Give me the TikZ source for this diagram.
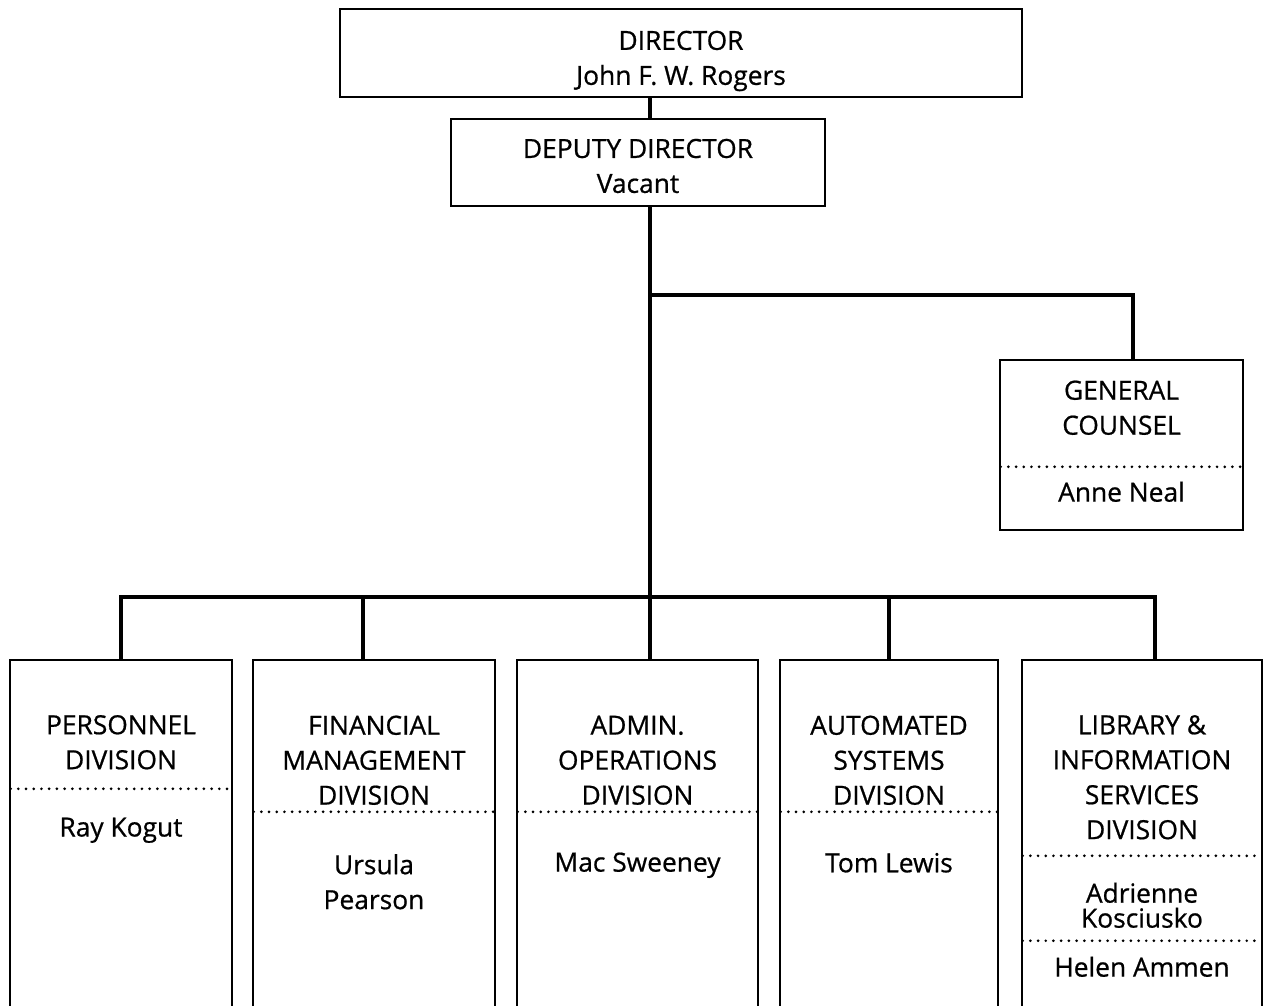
\documentclass[tikz,border=0pt]{standalone}
\usepackage{fontspec}
\setmainfont{Open Sans}[FakeBold=0.7]
\usetikzlibrary{positioning}

\begin{document}
\begin{tikzpicture}[
    x=0.02cm, y=-0.02cm,
    every node/.style={font=\fontsize{15}{19.9}\selectfont, align=center},
    box/.style={draw, line width=1.4pt, inner sep=0, minimum width=#1},
    box/.default=4.8cm,
    link/.style={line width=2.6pt},
    sep/.style={line width=1.7pt, dash pattern=on 0pt off 4.4pt, line cap=round, shorten <=1pt, shorten >=1pt}
]

\clip (0,0) rectangle (1265,1006);

% Director and deputy
\node[box=13.64cm, minimum height=1.76cm] (director) at (681,53) {};
\node (director-text) at ([yshift=-0.16cm]director.center) {DIRECTOR\\John F. W. Rogers};
\node[box=7.48cm, minimum height=1.74cm] (deputy) at (638,162.5) {};
\node (deputy-text) at ([yshift=-0.07cm]deputy.center) {DEPUTY DIRECTOR\\Vacant};

% Trunk points
\coordinate (branch) at (650,295);
\coordinate (bus) at (650,597);

% General counsel
\node[box=4.86cm, minimum height=3.4cm] (counsel) at (1121.5,445) {};
\node (counsel-title) at ([yshift=-0.98cm]counsel.north) {GENERAL\\COUNSEL};
\draw[sep] ([yshift=-2.16cm]counsel.north west) -- ([yshift=-2.16cm]counsel.north east);
\node (counsel-name) at ([yshift=-2.66cm]counsel.north) {Anne Neal};

% Divisions
\node[box=4.44cm, minimum height=7cm] (pers) at (121,835) {};
\node (pers-title) at ([yshift=-1.67cm]pers.north) {PERSONNEL\\DIVISION};
\draw[sep] ([yshift=-2.6cm]pers.north west) -- ([yshift=-2.6cm]pers.north east);
\node (pers-name) at ([yshift=-3.43cm]pers.north) {Ray Kogut};

\node[box=4.84cm, minimum height=7cm] (fin) at (374,835) {};
\node (fin-title) at ([yshift=-2.03cm]fin.north) {FINANCIAL\\MANAGEMENT\\DIVISION};
\draw[sep] ([yshift=-3.06cm]fin.north west) -- ([yshift=-3.06cm]fin.north east);
\node (fin-name) at ([yshift=-4.46cm]fin.north) {Ursula\\Pearson};

\node[box=4.82cm, minimum height=7cm] (admin) at (637.5,835) {};
\node (admin-title) at ([yshift=-2.03cm]admin.north) {ADMIN.\\OPERATIONS\\DIVISION};
\draw[sep] ([yshift=-3.06cm]admin.north west) -- ([yshift=-3.06cm]admin.north east);
\node (admin-name) at ([yshift=-4.13cm]admin.north) {Mac Sweeney};

\node[box=4.36cm, minimum height=7cm] (auto) at (889,835) {};
\node (auto-title) at ([yshift=-2.03cm]auto.north) {AUTOMATED\\SYSTEMS\\DIVISION};
\draw[sep] ([yshift=-3.06cm]auto.north west) -- ([yshift=-3.06cm]auto.north east);
\node (auto-name) at ([yshift=-4.08cm]auto.north) {Tom Lewis};

\node[box=4.8cm, minimum height=7cm] (lib) at (1142,835) {};
\node (lib-title) at ([yshift=-2.37cm]lib.north) {LIBRARY \&\\INFORMATION\\SERVICES\\DIVISION};
\draw[sep] ([yshift=-3.94cm]lib.north west) -- ([yshift=-3.94cm]lib.north east);
\node[font=\fontsize{15}{14.2}\selectfont] (lib-name1) at ([yshift=-4.93cm]lib.north) {Adrienne\\Kosciusko};
\draw[sep] ([yshift=-5.64cm]lib.north west) -- ([yshift=-5.64cm]lib.north east);
\node (lib-name2) at ([yshift=-6.16cm]lib.north) {Helen Ammen};

% Connectors
\draw[link] (bus |- director.south) -- (bus |- deputy.north);
\draw[link] (bus |- deputy.south) -- (bus |- admin.north);
\draw[link] (branch) -| ([xshift=0.23cm]counsel.north);
\draw[link] (pers.north) |- ([xshift=0.26cm]lib.north |- bus) -- ([xshift=0.26cm]lib.north);
\foreach \b/\dx in {fin/-0.22, auto/0} {
    \draw[link] ([xshift=\dx cm]\b.north) -- ([xshift=\dx cm]\b.north |- bus);
}

\end{tikzpicture}
\end{document}
